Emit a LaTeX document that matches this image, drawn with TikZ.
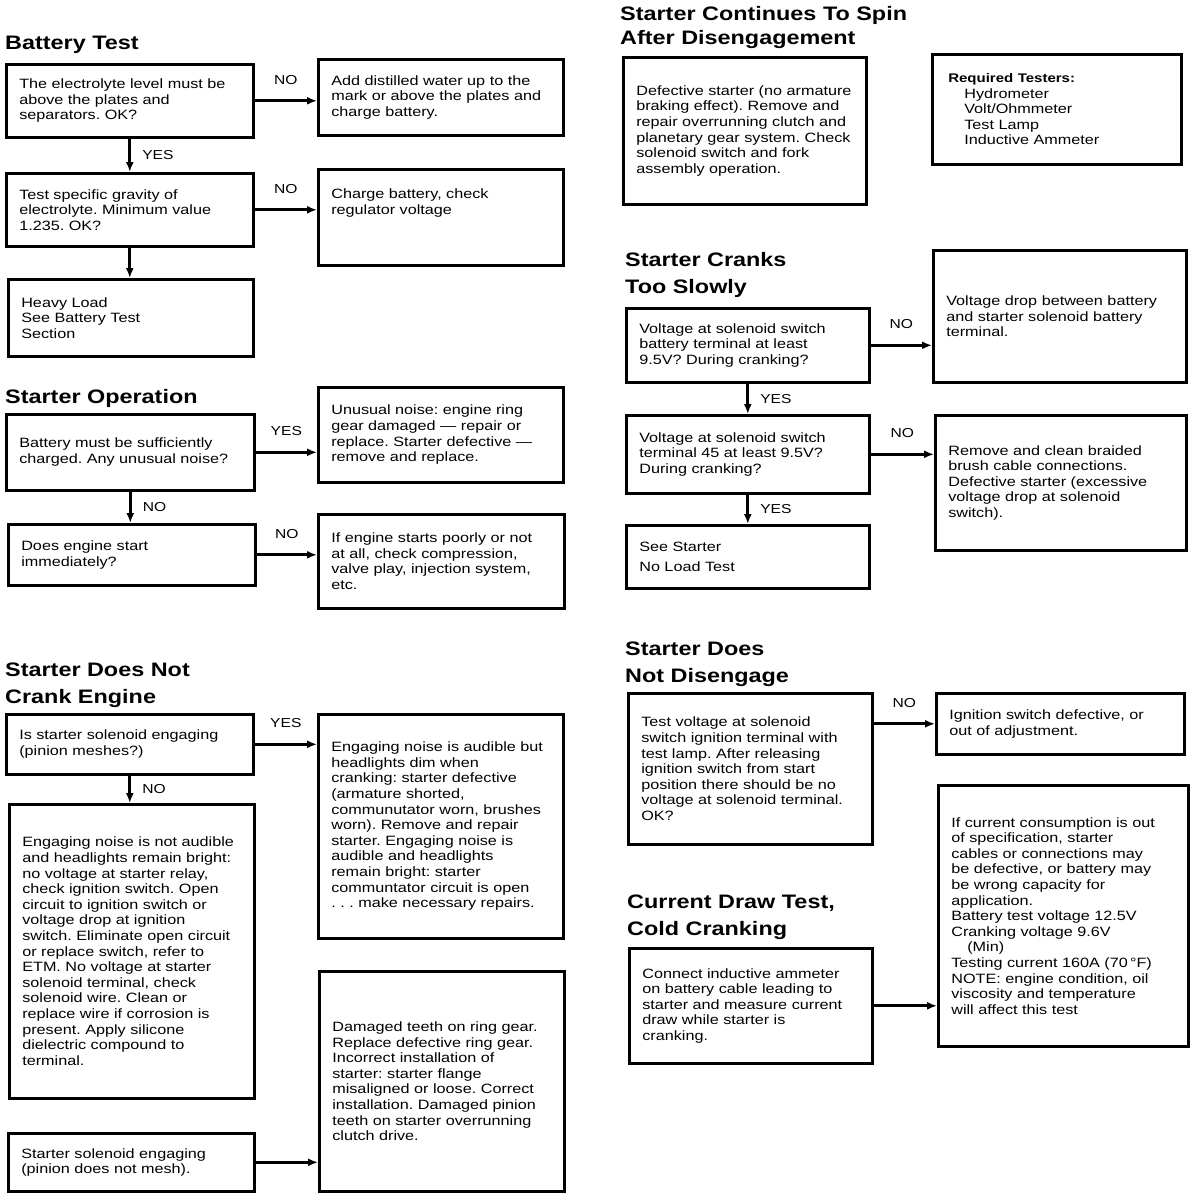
\documentclass[tikz,border=0pt]{standalone}
\usepackage{fontspec}
\setmainfont{Liberation Sans}[FakeStretch=1.2]
\frenchspacing
\usetikzlibrary{positioning, arrows.meta}
\definecolor{ink}{HTML}{000000}
\tikzset{
  every node/.style = {text=ink},
  stbox/.style  = {draw=ink, line width=2.6pt, align=left, inner xsep=13pt, inner ysep=4pt,
                   anchor=north west, font=\fontsize{13.5}{15.6}\selectfont},
  sthead/.style = {anchor=north west, align=left, inner sep=0pt,
                   font=\bfseries\fontsize{19.5}{27}\selectfont},
  stgo/.style   = {-{Latex[length=10pt,width=8pt]}, draw=ink, line width=3pt},
  stlab/.style  = {font=\fontsize{13}{15}\selectfont, inner sep=1pt},
}

\begin{document}
\begin{tikzpicture}[x=1pt, y=-1pt]
\fill[white] (0,0) rectangle (1200,1194);
\useasboundingbox (0,0) rectangle (1200,1194);

% battery test
\node[sthead] (hbat) at (5,35.7) {Battery Test};
\node[stbox, text width=221pt, minimum height=73pt] (b1) at (5,63)
  {The electrolyte level must be\\above the plates and\\separators. OK?};
\node[stbox, text width=219pt, minimum height=76pt] (b1n) at (317,58)
  {Add distilled water up to the\\mark or above the plates and\\charge battery.};
\node[stbox, text width=221pt, minimum height=73pt] (b2) at (5,172)
  {Test specific gravity of\\electrolyte. Minimum value\\1.235. OK?};
\node[stbox, text width=219pt, minimum height=96pt] (b2n) at (317,168)
  {Charge battery, check\\regulator voltage\\~\\~};
\node[stbox, text width=219pt, minimum height=77pt] (b3) at (7,278)
  {Heavy Load\\See Battery Test\\Section};

% starter operation
\node[sthead] (hop) at (5,388.7) {Starter Operation};
\node[stbox, text width=222pt, minimum height=76pt] (o1) at (5,413)
  {Battery must be sufficiently\\charged. Any unusual noise?};
\node[stbox, text width=219pt, minimum height=95pt] (o1y) at (317,386)
  {Unusual noise: engine ring\\gear damaged — repair or\\replace. Starter defective —\\remove and replace.};
\node[stbox, text width=221pt, minimum height=61pt] (o2) at (7,523)
  {Does engine start\\immediately?};
\node[stbox, text width=220pt, minimum height=94pt] (o2n) at (317,513)
  {If engine starts poorly or not\\at all, check compression,\\valve play, injection system,\\etc.};

% starter does not crank engine
\node[sthead] (hcr) at (5,662.7) {Starter Does Not\\Crank Engine};
\node[stbox, text width=221pt, minimum height=60pt] (c1) at (5,713)
  {Is starter solenoid engaging\\(pinion meshes?)};
\node[stbox, text width=219pt, minimum height=224pt] (c1y) at (317,713)
  {Engaging noise is audible but\\headlights dim when\\cranking: starter defective\\(armature shorted,\\communutator worn, brushes\\worn). Remove and repair\\starter. Engaging noise is\\audible and headlights\\remain bright: starter\\communtator circuit is open\\. . . make necessary repairs.};
\node[stbox, text width=219pt, minimum height=294pt] (c2) at (8,803)
  {Engaging noise is not audible\\and headlights remain bright:\\no voltage at starter relay,\\check ignition switch. Open\\circuit to ignition switch or\\voltage drop at ignition\\switch. Eliminate open circuit\\or replace switch, refer to\\ETM. No voltage at starter\\solenoid terminal, check\\solenoid wire. Clean or\\replace wire if corrosion is\\present. Apply silicone\\dielectric compound to\\terminal.};
\node[stbox, text width=219pt, minimum height=220pt] (c3) at (318,970)
  {Damaged teeth on ring gear.\\Replace defective ring gear.\\Incorrect installation of\\starter: starter flange\\misaligned or loose. Correct\\installation. Damaged pinion\\teeth on starter overrunning\\clutch drive.};
\node[stbox, text width=220pt, minimum height=58pt] (c4) at (7,1132)
  {Starter solenoid engaging\\(pinion does not mesh).};

% starter continues to spin
\node[sthead] (hsp) at (620,5.7) {Starter Continues To Spin\\[-3pt]After Disengagement};
\node[stbox, text width=217pt, minimum height=147pt] (s1) at (622,56)
  {Defective starter (no armature\\braking effect). Remove and\\repair overrunning clutch and\\planetary gear system. Check\\solenoid switch and fork\\assembly operation.};
\node[stbox, inner xsep=16pt, text width=217pt, minimum height=110pt] (req) at (931,53)
  {{\bfseries\fontsize{12.5}{15.6}\selectfont Required Testers:}\\\hspace*{16pt}Hydrometer\\\hspace*{16pt}Volt/Ohmmeter\\\hspace*{16pt}Test Lamp\\\hspace*{16pt}Inductive Ammeter};

% starter cranks too slowly
\node[sthead] (hsl) at (625,251.7) {Starter Cranks\\Too Slowly};
\node[stbox, text width=217pt, minimum height=74pt] (k1) at (625,307)
  {Voltage at solenoid switch\\battery terminal at least\\9.5V? During cranking?};
\node[stbox, text width=227pt, minimum height=132pt] (k1n) at (932,249)
  {Voltage drop between battery\\and starter solenoid battery\\terminal.};
\node[stbox, text width=217pt, minimum height=78pt] (k2) at (625,414)
  {Voltage at solenoid switch\\terminal 45 at least 9.5V?\\During cranking?};
\node[stbox, text width=225pt, minimum height=135pt] (k2n) at (934,414)
  {Remove and clean braided\\brush cable connections.\\Defective starter (excessive\\voltage drop at solenoid\\switch).};
\node[stbox, text width=217pt, minimum height=63pt] (k3) at (625,524)
  {See Starter\\[5pt]No Load Test};

% starter does not disengage
\node[sthead] (hdi) at (625,641.7) {Starter Does\\Not Disengage};
\node[stbox, text width=218pt, minimum height=151pt] (d1) at (627,692)
  {Test voltage at solenoid\\switch ignition terminal with\\test lamp. After releasing\\ignition switch from start\\position there should be no\\voltage at solenoid terminal.\\OK?};
\node[stbox, text width=222pt, minimum height=61pt] (d1n) at (935,692)
  {Ignition switch defective, or\\out of adjustment.};

% current draw test
\node[sthead] (hcu) at (627,894.7) {Current Draw Test,\\Cold Cranking};
\node[stbox, text width=217pt, minimum height=115pt] (a1) at (628,947)
  {Connect inductive ammeter\\on battery cable leading to\\starter and measure current\\draw while starter is\\cranking.};
\node[stbox, text width=224pt, minimum height=261pt] (a2) at (937,784)
  {If current consumption is out\\of specification, starter\\cables or connections may\\be defective, or battery may\\be wrong capacity for\\application.\\Battery test voltage 12.5V\\Cranking voltage 9.6V\\\hspace*{16pt}(Min)\\Testing current 160A (70\,°F)\\NOTE: engine condition, oil\\viscosity and temperature\\will affect this test};

% connectors
\foreach \a/\b/\t in {b1/b1n/NO, b2/b2n/NO, o1/o1y/YES, o2/o2n/NO, c1/c1y/YES, k1/k1n/NO, k2/k2n/NO}
  {\draw[stgo] (\a.east) -- node[stlab, above=14pt]{\t} (\a.east -| \b.west);}
\foreach \a/\b/\t in {b1/b2/YES, o1/o2/NO, c1/c2/NO, k1/k2/YES, k2/k3/YES}
  {\draw[stgo] (\a.south) -- node[stlab, right=10pt]{\t} (\a.south |- \b.north);}
\draw[stgo] (b2.south) -- (b2.south |- b3.north);
\draw[stgo] (c4.east) -- (c4.east -| c3.west);
\draw[stgo] (a1.east) -- (a1.east -| a2.west);
\draw[stgo] (d1n.west -| d1.east) -- node[stlab, above=14pt]{NO} (d1n.west);
\end{tikzpicture}
\end{document}
